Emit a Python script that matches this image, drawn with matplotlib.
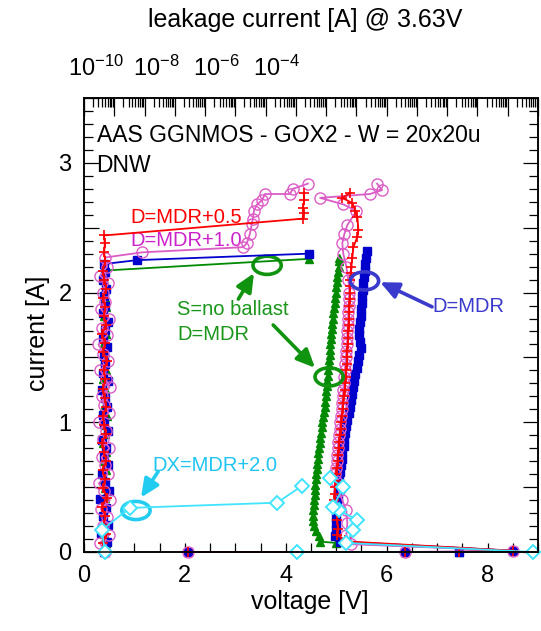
import numpy as np
import matplotlib
matplotlib.use('Agg')
from matplotlib import pyplot as plt
from matplotlib.patches import Ellipse
from matplotlib.ticker import MultipleLocator, LogLocator, NullFormatter, FuncFormatter

plt.rcParams['font.family'] = ['Liberation Sans', 'DejaVu Sans']
plt.rcParams['mathtext.fontset'] = 'custom'
plt.rcParams['mathtext.rm'] = 'Liberation Sans'
plt.rcParams['mathtext.default'] = 'regular'

# ---- TLP I-V data (voltage [V], current [A]) ----
# D=MDR (blue squares)
blue_v = [2.06, 6.37, 7.44, 8.51, 5.08,
          4.98, 5.00, 5.00, 4.99, 5.02, 5.01, 5.04, 5.03, 5.06, 5.05,
          5.08, 5.09, 5.11, 5.12, 5.15, 5.16, 5.18, 5.20, 5.22, 5.25,
          5.27, 5.29, 5.31, 5.33, 5.36, 5.38, 5.41, 5.43, 5.46, 5.49,
          5.47, 5.45, 5.46, 5.47, 5.49, 5.50, 5.51, 5.52, 5.53, 5.54,
          5.56, 5.57, 5.58, 5.60, 5.61]
blue_i = [0.00, 0.00, 0.00, 0.01, 0.08,
          0.12, 0.17, 0.22, 0.27, 0.32, 0.37, 0.42, 0.47, 0.52, 0.57,
          0.62, 0.67, 0.72, 0.77, 0.82, 0.87, 0.92, 0.97, 1.02, 1.07,
          1.12, 1.17, 1.22, 1.27, 1.32, 1.37, 1.42, 1.47, 1.52, 1.57,
          1.62, 1.67, 1.72, 1.77, 1.82, 1.87, 1.92, 1.97, 2.02, 2.07,
          2.12, 2.17, 2.22, 2.27, 2.32]

# D=MDR+0.5 (red plus)
red_v = [2.06, 6.37, 7.44, 8.51, 5.28, 5.18, 5.02, 5.03, 5.02, 5.02,
         4.97, 4.96, 4.97, 4.98, 4.99, 5.00, 5.02, 5.03, 5.04, 5.05,
         5.06, 5.08, 5.09, 5.10, 5.11, 5.13, 5.14, 5.15, 5.17, 5.18,
         5.19, 5.20, 5.21, 5.22, 5.22, 5.23, 5.24, 5.24, 5.25, 5.25,
         5.26, 5.26, 5.27, 5.27, 5.28, 5.28, 5.29, 5.30,
         5.32, 5.34, 5.42, 5.44, 5.42, 5.38, 5.32, 5.12, 5.28]
red_i = [0.00, 0.00, 0.00, 0.01, 0.08, 0.09, 0.13, 0.18, 0.25, 0.30,
         0.35, 0.40, 0.45, 0.50, 0.55, 0.60, 0.65, 0.70, 0.75, 0.80,
         0.85, 0.90, 0.95, 1.00, 1.05, 1.10, 1.15, 1.20, 1.25, 1.30,
         1.35, 1.40, 1.45, 1.50, 1.55, 1.60, 1.65, 1.70, 1.75, 1.80,
         1.85, 1.90, 1.95, 2.00, 2.05, 2.10, 2.15, 2.20,
         2.27, 2.35, 2.43, 2.48, 2.58, 2.63, 2.69, 2.73, 2.77]

# D=MDR+1.0 (magenta circles)
mag_v = [2.06, 6.37, 8.51, 5.30, 5.20, 5.22, 5.20, 5.12, 5.05,
         5.00, 4.98, 4.99, 5.01, 5.02, 5.03, 5.04, 5.06, 5.07, 5.08,
         5.10, 5.11, 5.12, 5.13, 5.14, 5.15, 5.16, 5.17, 5.18, 5.19,
         5.20, 5.21, 5.22, 5.22, 5.23, 5.24, 5.24, 5.25, 5.25, 5.26,
         5.24, 5.20, 5.14, 5.12, 5.16, 5.22, 5.40, 5.14, 4.68, 5.67, 5.91, 5.81]
mag_i = [0.00, 0.00, 0.01, 0.06, 0.13, 0.22, 0.32, 0.40, 0.47,
         0.55, 0.60, 0.65, 0.70, 0.75, 0.80, 0.85, 0.90, 0.95, 1.00,
         1.05, 1.10, 1.15, 1.20, 1.25, 1.30, 1.35, 1.40, 1.45, 1.50,
         1.55, 1.60, 1.65, 1.70, 1.75, 1.80, 1.85, 1.90, 1.95, 2.00,
         2.10, 2.20, 2.30, 2.38, 2.45, 2.52, 2.63, 2.68, 2.73, 2.76, 2.79, 2.84]

# S=no ballast, D=MDR (green triangles)
green_v = [2.06, 6.37, 7.44, 8.51, 5.00,
           4.68, 4.66, 4.60, 4.56, 4.54, 4.53, 4.54, 4.55, 4.56, 4.57,
           4.58, 4.58, 4.59, 4.60, 4.61, 4.62, 4.63, 4.64, 4.65, 4.67,
           4.68, 4.70, 4.71, 4.72, 4.73, 4.75, 4.77, 4.78, 4.79, 4.80,
           4.81, 4.82, 4.83, 4.84, 4.85, 4.86, 4.87, 4.88, 4.88, 4.89,
           4.90, 4.91, 4.92, 4.93, 4.94, 4.95, 4.97, 4.98, 4.99, 5.00,
           5.01, 5.02, 5.04, 5.05, 5.05, 5.06]
green_i = [0.00, 0.00, 0.00, 0.01, 0.07,
           0.08, 0.12, 0.16, 0.20, 0.24, 0.28, 0.32, 0.36, 0.40, 0.44,
           0.48, 0.52, 0.56, 0.60, 0.64, 0.68, 0.72, 0.76, 0.80, 0.84,
           0.88, 0.92, 0.96, 1.00, 1.04, 1.08, 1.12, 1.16, 1.20, 1.24,
           1.28, 1.32, 1.36, 1.40, 1.44, 1.48, 1.52, 1.56, 1.60, 1.64,
           1.68, 1.72, 1.76, 1.80, 1.84, 1.88, 1.92, 1.96, 2.00, 2.04,
           2.08, 2.12, 2.16, 2.20, 2.24, 2.27]

# DX=MDR+2.0 (cyan diamonds)
cyan_v = [4.22, 8.90, 5.20, 5.34, 5.41, 5.05, 4.94, 5.14, 4.88]
cyan_i = [0.00, 0.00, 0.07, 0.17, 0.25, 0.32, 0.35, 0.50, 0.57]

# ---- leakage data (leakage [A] @ 3.63V, current [A]) ----
blue_lk_i = [0.00, 0.08, 0.15, 0.21, 0.28, 0.34, 0.41, 0.47, 0.54, 0.60,
             0.67, 0.73, 0.80, 0.86, 0.93, 0.99, 1.06, 1.12, 1.19, 1.25,
             1.32, 1.38, 1.45, 1.51, 1.58, 1.64, 1.71, 1.77, 1.84, 1.90,
             1.97, 2.03, 2.10, 2.16, 2.22, 2.25, 2.30]
blue_lk_a = [4.6e-14, 5.8e-14, 3.7e-14, 6.3e-14, 4.4e-14, 5.2e-14, 3.5e-14, 6.6e-14, 4.8e-14, 4.0e-14,
             6.1e-14, 4.5e-14, 5.4e-14, 3.8e-14, 6.0e-14, 4.7e-14, 4.2e-14, 5.6e-14, 4.9e-14, 3.9e-14,
             6.4e-14, 4.3e-14, 5.0e-14, 4.6e-14, 5.9e-14, 4.1e-14, 4.8e-14, 6.2e-14, 4.4e-14, 5.1e-14,
             4.7e-14, 5.5e-14, 4.3e-14, 5.0e-14, 4.6e-14, 5.6e-13, 2.7e-7]

red_lk_i = [0.00, 0.07, 0.14, 0.21, 0.28, 0.35, 0.42, 0.49, 0.56, 0.63,
            0.70, 0.77, 0.84, 0.91, 0.98, 1.05, 1.12, 1.19, 1.26, 1.33,
            1.40, 1.47, 1.54, 1.61, 1.68, 1.75, 1.82, 1.89, 1.96, 2.03,
            2.10, 2.17, 2.24, 2.31, 2.38, 2.44, 2.57, 2.61, 2.65, 2.71, 2.77]
red_lk_a = [4.8e-14, 4.2e-14, 5.3e-14, 4.5e-14, 5.0e-14, 3.9e-14, 5.6e-14, 4.4e-14, 4.9e-14, 4.1e-14,
            5.4e-14, 4.6e-14, 4.0e-14, 5.2e-14, 4.7e-14, 4.3e-14, 5.5e-14, 4.8e-14, 4.2e-14, 5.1e-14,
            4.5e-14, 5.7e-14, 4.4e-14, 4.9e-14, 4.0e-14, 5.3e-14, 4.6e-14, 5.0e-14, 4.3e-14, 5.5e-14,
            4.7e-14, 4.2e-14, 5.1e-14, 4.6e-14, 4.9e-14, 4.5e-14, 1.7e-7, 1.8e-7, 1.7e-7, 1.9e-7, 1.8e-7]

mag_lk_i = [0.00, 0.07, 0.13, 0.20, 0.27, 0.33, 0.40, 0.47, 0.53, 0.60,
            0.67, 0.73, 0.80, 0.87, 0.93, 1.00, 1.07, 1.13, 1.20, 1.27,
            1.33, 1.40, 1.47, 1.53, 1.60, 1.67, 1.73, 1.80, 1.87, 1.93,
            2.00, 2.07, 2.13, 2.20, 2.27, 2.31, 2.35, 2.38, 2.45, 2.53,
            2.57, 2.63, 2.68, 2.71, 2.76, 2.76, 2.80, 2.84]
mag_lk_a = [5.0e-14, 3.3e-14, 6.8e-14, 4.1e-14, 5.7e-14, 3.6e-14, 7.2e-14, 4.5e-14, 3.1e-14, 6.0e-14,
            4.9e-14, 3.8e-14, 6.9e-14, 4.3e-14, 5.5e-14, 3.2e-14, 6.5e-14, 4.7e-14, 3.9e-14, 7.0e-14,
            5.3e-14, 3.5e-14, 6.2e-14, 4.4e-14, 3.0e-14, 5.9e-14, 4.0e-14, 6.7e-14, 3.7e-14, 5.1e-14,
            4.2e-14, 6.4e-14, 3.4e-14, 5.8e-14, 4.8e-14, 8.3e-13, 1.8e-9, 2.4e-9, 3.0e-9, 3.5e-9,
            3.8e-9, 4.1e-9, 5.2e-9, 7.6e-9, 9.5e-9, 6.4e-8, 8.0e-8, 2.5e-7]

green_lk_i = [0.00, 0.07, 0.14, 0.21, 0.28, 0.35, 0.42, 0.49, 0.56, 0.63,
              0.70, 0.77, 0.84, 0.91, 0.98, 1.05, 1.12, 1.19, 1.26, 1.33,
              1.40, 1.47, 1.54, 1.61, 1.68, 1.75, 1.82, 1.89, 1.96, 2.03,
              2.10, 2.17, 2.26]
green_lk_a = [4.9e-14, 5.3e-14, 4.6e-14, 5.1e-14, 4.4e-14, 5.5e-14, 4.8e-14, 5.0e-14, 4.5e-14, 5.2e-14,
              4.7e-14, 5.4e-14, 4.3e-14, 5.0e-14, 4.8e-14, 5.6e-14, 4.6e-14, 5.1e-14, 4.9e-14, 4.4e-14,
              5.3e-14, 4.7e-14, 5.0e-14, 4.5e-14, 5.2e-14, 4.8e-14, 4.6e-14, 5.4e-14, 4.9e-14, 5.1e-14,
              4.7e-14, 5.0e-14, 2.7e-7]

cyan_lk_i = [0.00, 0.17, 0.34, 0.38, 0.51]
cyan_lk_a = [4.9e-14, 3.9e-14, 3.3e-13, 2.4e-8, 1.6e-7]

top_labels = ['$10^{-10}$', '$10^{-8}$', '$10^{-6}$', '$10^{-4}$']

red_c, mag_c, blue_c, green_c, cyan_c = '#ff0000', '#dc5cc6', '#0000cc', '#008a00', '#40e4ff'

W, H = 541, 631
fig = plt.figure(figsize=(W / 100, H / 100), dpi=100)
ax = fig.add_axes([84 / W, 79 / H, 454 / W, 454 / H])
ax.set_xlim(0, 9)
ax.set_ylim(0, 3.5)
ax2 = ax.twiny()
ax2.set_xscale('log')
ax2.set_xlim(1e-14, 1e1)

styles = [
    (green_v, green_i, green_lk_a, green_lk_i, dict(color=green_c, marker='^', ms=5.5, mfc=green_c, mec=green_c)),
    (blue_v, blue_i, blue_lk_a, blue_lk_i, dict(color=blue_c, marker='s', ms=6, mfc=blue_c, mec=blue_c)),
    (mag_v, mag_i, mag_lk_a, mag_lk_i, dict(color=mag_c, marker='o', ms=8, mfc='none', mec=mag_c, mew=1.0)),
    (red_v, red_i, red_lk_a, red_lk_i, dict(color=red_c, marker='+', ms=7, mew=1.2)),
    (cyan_v, cyan_i, cyan_lk_a, cyan_lk_i, dict(color=cyan_c, marker='D', ms=7, mfc='white', mec=cyan_c, mew=1.4)),
]
for v, i, lk_a, lk_i, st in styles:
    ax.plot(v, i, lw=1.3, clip_on=False, **st)
    ax2.plot(lk_a, lk_i, lw=1.3, clip_on=False, **st)

# ticks
ax.xaxis.set_major_locator(MultipleLocator(2))
ax.xaxis.set_minor_locator(MultipleLocator(0.5))
ax.yaxis.set_major_locator(MultipleLocator(0.5))
ax.yaxis.set_minor_locator(MultipleLocator(0.1))
ax.yaxis.set_major_formatter(FuncFormatter(lambda v, p: f'{v:.0f}' if abs(v - round(v)) < 1e-6 else ''))
ax.tick_params(axis='x', which='both', direction='in', length=6.5, width=0.9,
               top=False, bottom=True, labelsize=17, pad=9)
ax.tick_params(axis='y', which='major', direction='in', length=11, width=0.9,
               left=True, right=True, labelsize=17, pad=9)
ax.tick_params(axis='y', which='minor', direction='in', length=6.5, width=0.9, left=True, right=True)
ax2.xaxis.set_major_locator(LogLocator(base=10, numticks=30))
ax2.xaxis.set_minor_locator(LogLocator(base=10, subs=np.arange(2, 10), numticks=30))
ax2.xaxis.set_minor_formatter(NullFormatter())
ax2.tick_params(axis='x', which='major', direction='in', length=13, width=0.9,
                top=True, bottom=False, labeltop=False, labelbottom=False)
ax2.tick_params(axis='x', which='minor', direction='in', length=6.5, width=0.9, top=True, bottom=False)
for a in (ax, ax2):
    for s in a.spines.values():
        s.set_linewidth(1.1)

# axis titles
fig.text(310 / W, 1 - 602 / H, 'voltage [V]', ha='center', va='center', fontsize=18)
fig.text(38 / W, 1 - 333 / H, 'current [A]', ha='center', va='center', rotation=90, fontsize=18)
fig.text(305 / W, 1 - 20 / H, 'leakage current [A] @ 3.63V', ha='center', va='center', fontsize=18)
for lbl, x0 in zip(top_labels, [68, 133, 193, 253]):
    fig.text(x0 / W, 1 - 76 / H, lbl, ha='left', va='baseline', fontsize=17)

# annotations
ax.text(0.25, 3.21, 'AAS GGNMOS - GOX2 - W = 20x20u', fontsize=16.5, va='center', ha='left')
ax.text(0.25, 2.98, 'DNW', fontsize=16.5, va='center', ha='left')
ax.text(0.91, 2.58, 'D=MDR+0.5', color=red_c, fontsize=14.5, va='center')
ax.text(0.91, 2.40, 'D=MDR+1.0', color='#cc22cc', fontsize=14.5, va='center')
ax.text(1.85, 1.87, 'S=no ballast', color='#1a961a', fontsize=14.5, va='center')
ax.text(1.85, 1.68, 'D=MDR', color='#1a961a', fontsize=14.5, va='center')
ax.text(6.90, 1.89, 'D=MDR', color='#3a3acc', fontsize=14.5, va='center')
ax.text(1.35, 0.67, 'DX=MDR+2.0', color='#20c4f2', fontsize=14.5, va='center')

marks = [
    ((3.63, 2.21), (3.06, 1.95), (3.37, 2.15), '#109410'),
    ((4.86, 1.35), (3.75, 1.75), (4.58, 1.42), '#109410'),
    ((5.56, 2.09), (6.90, 1.89), (5.87, 2.08), '#3a3acc'),
    ((1.03, 0.32), (1.47, 0.62), (1.13, 0.42), '#22ccf0'),
]
for center, tail, tip, c in marks:
    ax.add_patch(Ellipse(center, 0.56, 0.14, fill=False, ec=c, lw=2.6, zorder=5))
    ax.annotate('', xy=tip, xytext=tail,
                arrowprops=dict(arrowstyle='-|>,head_length=0.55,head_width=0.25',
                                mutation_scale=20, lw=2.6, color=c, shrinkA=0, shrinkB=0))

fig.savefig('out.png', dpi=100)
